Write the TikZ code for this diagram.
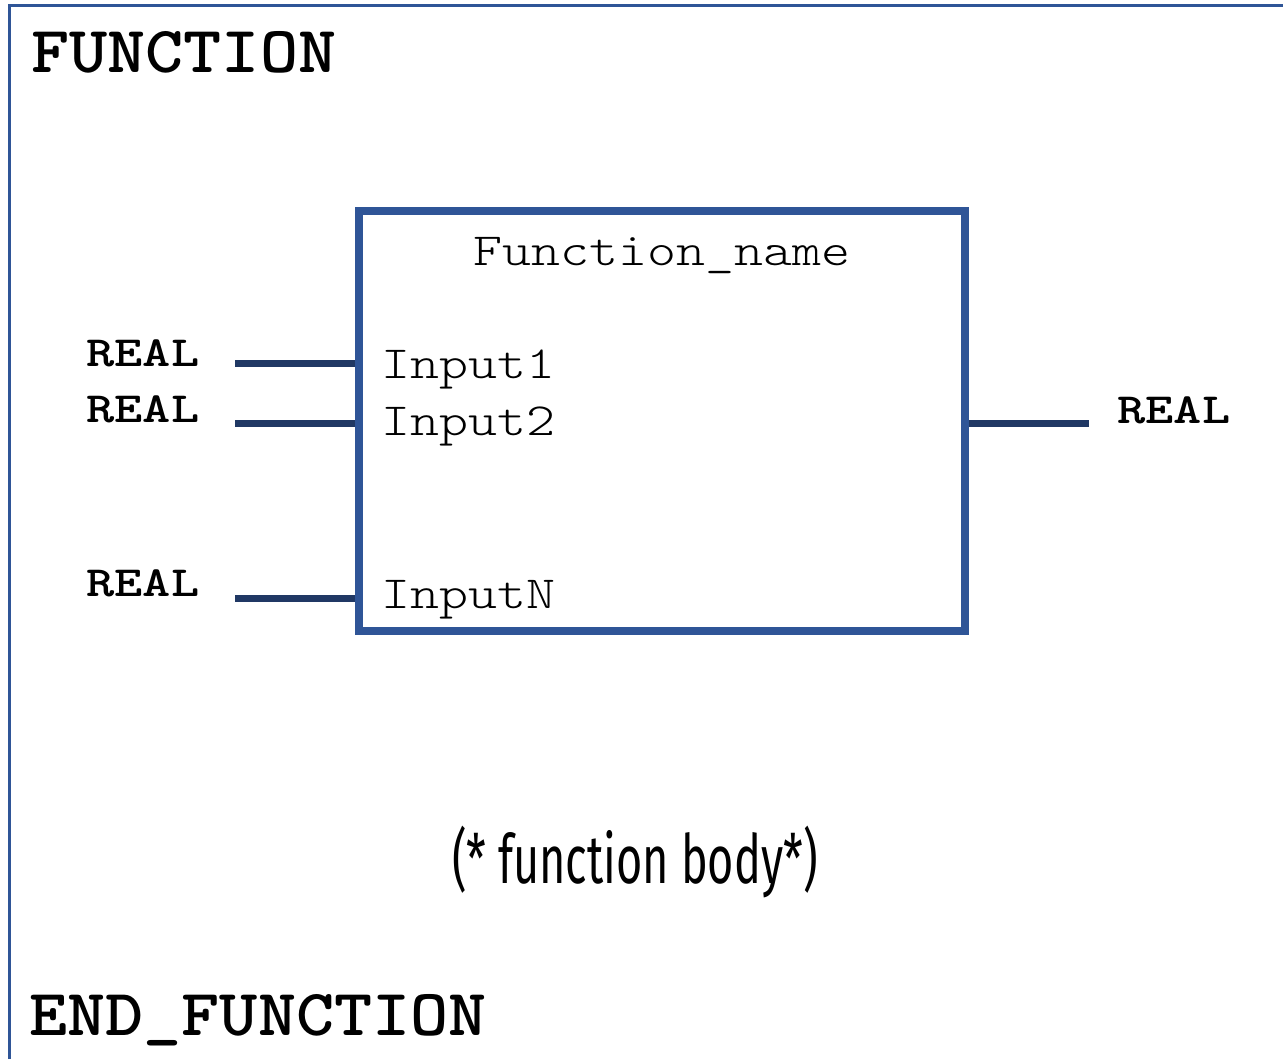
\documentclass[tikz,border=0pt]{standalone}
\usepackage{fontspec}
\usepackage{graphicx}
\setmainfont{Liberation Serif}
\newfontfamily\cour{Latin Modern Mono Light}
\newfontfamily\bodyfont{Fira Sans}
\definecolor{boxblue}{HTML}{2F5597}
\definecolor{wirenavy}{HTML}{203864}
% typewriter text, widened to a Courier-like cell
\newcommand\cw[1]{\scalebox{1.2}[1]{#1}}
\newcommand\cwb[1]{\scalebox{1.25}[1]{#1}}
\newcommand\cwk[1]{\scalebox{1.1}[1]{#1}}
\tikzset{
  kw/.style={inner sep=0pt, anchor=base west, font=\cour\bfseries\fontsize{33pt}{33pt}\selectfont},
  typ/.style={inner sep=0pt, anchor=base west, font=\cour\bfseries\fontsize{21.5pt}{21.5pt}\selectfont},
  pin/.style={inner sep=0pt, anchor=base west, font=\cour\fontsize{23pt}{23pt}\selectfont},
  wire/.style={draw=wirenavy, line width=3.5pt},
  fblock/.style={draw=boxblue, line width=4pt, rectangle, inner sep=0pt,
    minimum width=303pt, minimum height=210pt},
}
\begin{document}
\begin{tikzpicture}[x=0.5pt, y=-0.5pt]
  \useasboundingbox (0,0) rectangle (1283,1059);
  % outer frame: top and left edges
  \draw[boxblue, line width=1.2pt] (9.5,1059) -- (9.5,5.5) -- (1283,5.5);

  \node[kw] (head) at (31,73) {\cwk{FUNCTION}};
  \node[kw] (tail) at (29,1035) {\cwk{END\_FUNCTION}};

  % function block
  \node[fblock] (fb) at (662,421) {};
  \node[pin, anchor=base] (fname) at (662,265) {\cw{Function\_name}};
  \node[pin] (in1) at (381,378) {\cw{Input1}};
  \node[pin] (in2) at (381,435) {\cw{Input2}};
  \node[pin] (inN) at (381,608) {\cw{InputN}};

  % inputs
  \coordinate (w1) at (235,363);
  \coordinate (w2) at (235,423);
  \coordinate (w3) at (235,598);
  \draw[wire] (w1) -- (w1 -| fb.west);
  \draw[wire] (w2) -- (w2 -| fb.west);
  \draw[wire] (w3) -- (w3 -| fb.west);
  \node[typ] (t1) at (86,366) {\cwb{REAL}};
  \node[typ] (t2) at (86,422) {\cwb{REAL}};
  \node[typ] (t3) at (86,596) {\cwb{REAL}};

  % output
  \coordinate (wo) at (1089,423);
  \draw[wire] (wo -| fb.east) -- (wo);
  \node[typ] (to) at (1117,423) {\cwb{REAL}};

  % body comment
  \node[inner sep=0pt, anchor=base] (body) at (635,883)
    {\bodyfont\fontsize{34pt}{34pt}\selectfont\resizebox{183pt}{\height}{(* function body*)}};
\end{tikzpicture}
\end{document}
